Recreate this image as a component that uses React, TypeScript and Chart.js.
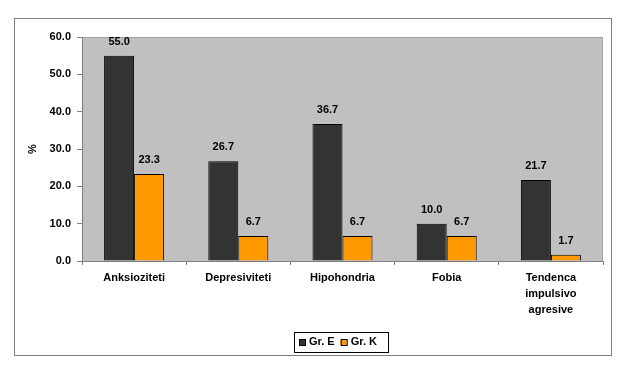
import React, { useEffect, useRef } from "react";
import { Chart, registerables } from "chart.js";

Chart.register(...registerables);

const categories: (string | string[])[] = [
  "Anksioziteti",
  "Depresiviteti",
  "Hipohondria",
  "Fobia",
  ["Tendenca", "impulsivo", "agresive"],
];
const seriesNames = ["Gr. E", "Gr. K"];
const grE = [55.0, 26.7, 36.7, 10.0, 21.7];
const grK = [23.3, 6.7, 6.7, 6.7, 1.7];
const yTicks = [0, 10, 20, 30, 40, 50, 60];
const seriesColors = ["#333333", "#FF9900"];

const FONT = "'Liberation Sans', Arial, sans-serif";

const framePlugin = {
  id: "frame",
  beforeDraw(chart: any) {
    const { ctx, chartArea } = chart;
    ctx.save();
    ctx.fillStyle = "#ffffff";
    ctx.fillRect(0, 0, chart.width, chart.height);
    ctx.strokeStyle = "#808080";
    ctx.lineWidth = 1;
    ctx.strokeRect(14.5, 18.5, 597, 337);
    ctx.fillStyle = "#C0C0C0";
    ctx.fillRect(chartArea.left, chartArea.top, chartArea.right - chartArea.left, chartArea.bottom - chartArea.top);
    ctx.strokeStyle = "#A0A0A0";
    ctx.strokeRect(chartArea.left + 0.5, chartArea.top + 0.5, chartArea.right - chartArea.left - 1, chartArea.bottom - chartArea.top);
    ctx.restore();
  },
};

const labelPlugin = {
  id: "barLabels",
  afterDatasetsDraw(chart: any) {
    const { ctx } = chart;
    ctx.save();
    ctx.font = `bold 11px ${FONT}`;
    ctx.fillStyle = "#000000";
    ctx.textAlign = "center";
    ctx.textBaseline = "middle";
    chart.data.datasets.forEach((ds: any, i: number) => {
      const meta = chart.getDatasetMeta(i);
      meta.data.forEach((bar: any, j: number) => {
        ctx.fillText(Number(ds.data[j]).toFixed(1), bar.x, bar.y - 14);
      });
    });
    ctx.restore();
  },
};

const legendPlugin = {
  id: "boxLegend",
  afterDraw(chart: any) {
    const { ctx } = chart;
    ctx.save();
    ctx.strokeStyle = "#000000";
    ctx.lineWidth = 1;
    ctx.strokeRect(294.5, 332.5, 94, 20);
    ctx.font = `bold 11px ${FONT}`;
    ctx.textBaseline = "middle";
    ctx.textAlign = "left";
    let x = 299;
    seriesNames.forEach((name, i) => {
      ctx.fillStyle = seriesColors[i];
      ctx.fillRect(x, 339, 6, 6);
      ctx.strokeStyle = "#000000";
      ctx.strokeRect(x + 0.5, 339.5, 6, 6);
      ctx.fillStyle = "#000000";
      ctx.fillText(name, x + 10, 342);
      x += 10 + ctx.measureText(name).width + 6;
    });
    ctx.restore();
  },
};

export default function App() {
  const ref = useRef<HTMLCanvasElement | null>(null);
  useEffect(() => {
    if (!ref.current) return;
    const chart = new Chart(ref.current, {
      type: "bar",
      data: {
        labels: categories,
        datasets: [
          {
            label: seriesNames[0],
            data: grE,
            backgroundColor: seriesColors[0],
            borderColor: "#000000",
            borderWidth: 1,
            categoryPercentage: 0.576,
            barPercentage: 1,
          },
          {
            label: seriesNames[1],
            data: grK,
            backgroundColor: seriesColors[1],
            borderColor: "#000000",
            borderWidth: 1,
            categoryPercentage: 0.576,
            barPercentage: 1,
          },
        ],
      },
      options: {
        responsive: false,
        animation: false,
        layout: { padding: { left: 14, right: 26, top: 37, bottom: 44 } },
        plugins: {
          legend: { display: false },
          tooltip: { enabled: false },
        },
        scales: {
          x: {
            grid: {
              drawOnChartArea: false,
              drawTicks: true,
              tickLength: 4,
              color: "#808080",
              offset: true,
            },
            border: { display: true, color: "#808080" },
            ticks: {
              color: "#000000",
              font: { family: FONT, size: 11, weight: "bold", lineHeight: 1.45 },
              padding: 5,
              maxRotation: 0,
              autoSkip: false,
            },
            afterFit(scale: any) {
              scale.height = 66;
            },
          },
          y: {
            min: 0,
            max: 60,
            afterBuildTicks(scale: any) {
              scale.ticks = yTicks.map((v) => ({ value: v }));
            },
            grid: {
              drawOnChartArea: false,
              drawTicks: true,
              tickLength: 5,
              color: "#808080",
            },
            border: { display: true, color: "#808080" },
            ticks: {
              color: "#000000",
              font: { family: FONT, size: 11, weight: "bold" },
              padding: 6,
              callback: (v: any) => Number(v).toFixed(1),
            },
            title: {
              display: true,
              text: "%",
              color: "#000000",
              font: { family: FONT, size: 11, weight: "bold" },
              padding: { top: 12, bottom: 0 },
            },
            afterFit(scale: any) {
              scale.width = 68;
            },
          },
        },
      },
      plugins: [framePlugin, labelPlugin, legendPlugin],
    });
    return () => chart.destroy();
  }, []);
  return (
    <div style={{ position: "absolute", left: 0, top: 0 }}>
      <canvas ref={ref} width={629} height={371} style={{ display: "block" }} />
    </div>
  );
}
